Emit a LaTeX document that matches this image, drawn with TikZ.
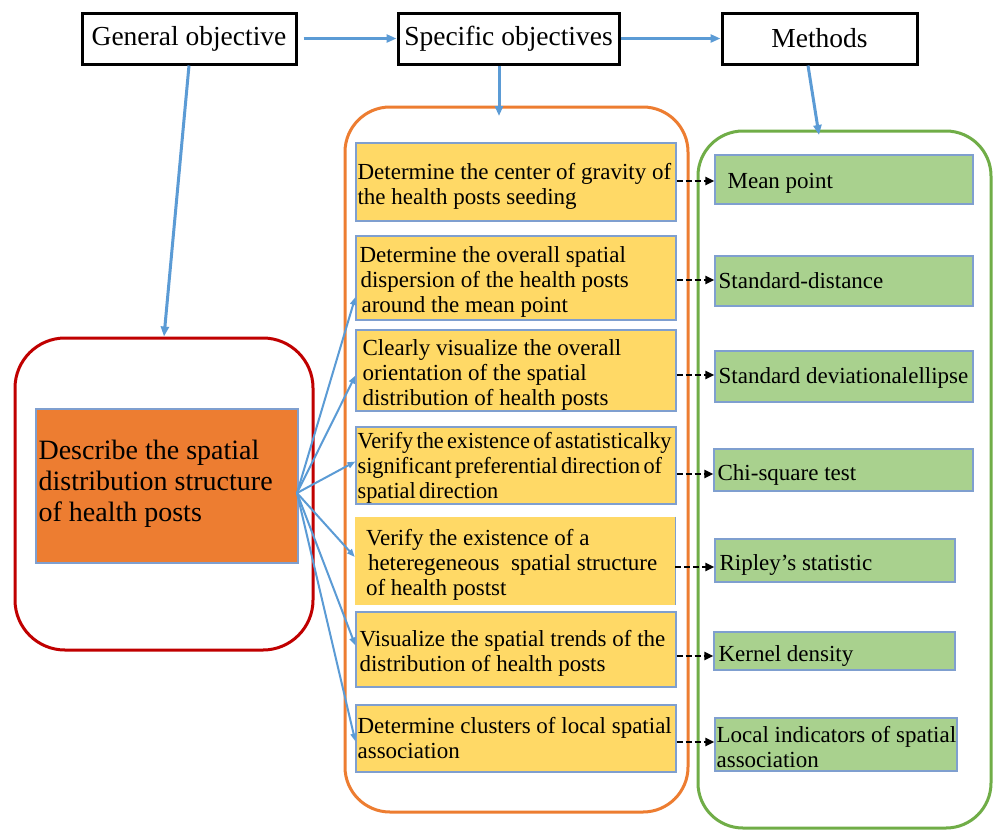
\documentclass[tikz,border=0pt]{standalone}
\usepackage{fontspec}
\setmainfont{Liberation Serif}
\usetikzlibrary{arrows.meta}
\definecolor{arrblue}{HTML}{5B9BD5}
\definecolor{edgeblue}{HTML}{7F9FCF}
\definecolor{yfill}{HTML}{FFD966}
\definecolor{gfill}{HTML}{A9D18E}
\definecolor{ofill}{HTML}{ED7D31}
\definecolor{redline}{HTML}{C00000}
\definecolor{orangeline}{HTML}{ED7D31}
\definecolor{greenline}{HTML}{70AD47}
\tikzset{
  topbox/.style={draw=black, line width=3pt, fill=white, inner sep=0pt,
    font=\fontsize{27.5pt}{30pt}\selectfont},
  ybox/.style={draw=edgeblue, line width=1.2pt, fill=yfill, inner sep=0pt},
  gbox/.style={draw=edgeblue, line width=1.2pt, fill=gfill, inner sep=0pt},
  boxtext/.style={inner sep=0pt, align=left, anchor=west,
    font=\fontsize{23pt}{25pt}\selectfont},
  outerbox/.style={line width=3pt, rounded corners=#1, inner sep=0pt},
  bigarrow/.style={arrblue, line width=3pt, -{Triangle[length=10pt,width=8pt]}},
  fanarrow/.style={arrblue, line width=2pt, -{Triangle[length=8pt,width=6pt]}},
  dasharrow/.style={black, line width=2.6pt, dash pattern=on 6pt off 3pt,
    -{Triangle[length=9pt,width=8pt]}}
}
% name, x1, y1, x2, y2, text x offset, text y offset (down), text
\newcommand{\ybx}[8]{%
  \node[ybox, minimum width={#4-#2}, minimum height={#5-#3}] (#1) at ({(#2+#4)/2},{(#3+#5)/2}) {};
  \node[boxtext] (#1t) at ([xshift=#6pt,yshift=-#7pt]#1.west) {#8};}
\newcommand{\gbx}[8]{%
  \node[gbox, minimum width={#4-#2}, minimum height={#5-#3}] (#1) at ({(#2+#4)/2},{(#3+#5)/2}) {};
  \node[boxtext] (#1t) at ([xshift=#6pt,yshift=-#7pt]#1.west) {#8};}
\begin{document}
\begin{tikzpicture}[x=1pt,y=-1pt]
\useasboundingbox (0,0) rectangle (994,831);
\fill[white] (0,0) rectangle (994,831);

% top boxes
\node[topbox, minimum width=214, minimum height=51] (gen) at (189,38.5) {General objective};
\node[topbox, minimum width=221, minimum height=51] (spec) at (508.5,38.5) {Specific objectives};
\node[topbox, minimum width=195, minimum height=51] (meth) at (819.5,38.5) {Methods};

% outer rounded containers
\node[outerbox=50pt, draw=redline, minimum width=298, minimum height=312] (redc) at (164,494) {};
\node[outerbox=45pt, draw=orangeline, minimum width=343, minimum height=705] (orc) at (516.5,459.5) {};
\node[outerbox=45pt, draw=greenline, minimum width=293, minimum height=697] (grc) at (844.5,479.5) {};

% general objective box
\node[draw=edgeblue, line width=1.2pt, fill=ofill, minimum width=262, minimum height=154,
  inner sep=0pt] (desc) at (167,486) {};
\node[inner sep=0pt, align=left, anchor=west, font=\fontsize{28pt}{31pt}\selectfont]
  (desct) at ([xshift=3pt,yshift=2pt]desc.west)
  {Describe the spatial\\distribution structure\\of health posts};

% specific objectives (yellow)
\ybx{y1}{356}{143}{676}{221}{2}{4}{Determine the center of gravity of\\the health posts seeding}
\ybx{y2}{356}{236}{676}{320}{4}{4}{Determine the overall spatial\\\hspace*{1pt}dispersion of the health posts\\\hspace*{2pt}around the mean point}
\ybx{y3}{356}{330}{676}{411}{7}{4}{Clearly visualize the overall\\orientation of the spatial\\distribution of health posts}
\node[ybox, minimum width=320, minimum height=77] (y4) at (516,465.5) {};
\node[boxtext, font={\fontsize{23pt}{25pt}\selectfont\addfontfeature{FakeStretch=0.97}\spaceskip=0.14em\relax}]
  (y4t) at ([xshift=2pt,yshift=-2pt]y4.west)
  {Verify the existence of astatisticalky\\significant preferential direction of\\spatial direction};
\node[fill=yfill, inner sep=0pt, minimum width=320, minimum height=88] (y5) at (515,561) {};
\draw[edgeblue, line width=1.2pt] (y5.north east) -- (y5.south east);
\node[boxtext] (y5t) at ([xshift=11pt,yshift=-4pt]y5.west)
  {Verify the existence of a\\\hspace*{2pt}heteregeneous\ \ spatial structure\\of health postst};
\ybx{y6}{356}{612}{676}{687}{4}{4}{Visualize the spatial trends of the\\distribution of health posts}
\ybx{y7}{356}{705}{676}{772}{2}{0}{Determine clusters of local spatial\\association}

% methods (green)
\gbx{g1}{715}{155}{973}{204}{13}{4}{Mean point}
\gbx{g2}{715}{256}{973}{306}{4}{0}{Standard-distance}
\gbx{g3}{715}{351}{973}{402}{4}{1}{Standard deviationalellipse}
\gbx{g4}{714}{449}{973}{491}{4}{5}{Chi-square test}
\gbx{g5}{715}{539}{955}{582}{5}{4}{Ripley’s statistic}
\gbx{g6}{714}{632}{955}{670}{5}{5}{Kernel density}
\gbx{g7}{715}{718}{957}{771}{2}{3}{Local indicators of spatial\\association}

% top arrows
\coordinate (specin) at (499,116);
\coordinate (methin) at (819,135);
\draw[bigarrow, shorten <=6pt] (gen.east) -- (spec.west);
\draw[bigarrow] (spec.east) -- (meth.west);
\draw[bigarrow] ([xshift=-9.5pt]spec.south) -- (specin);
\draw[bigarrow] ([xshift=-11.5pt]meth.south) -- (methin);
\draw[bigarrow] (gen.south) -- (redc.north);

% fan of arrows from the general objective
\coordinate (fan) at (297,493);
\draw[fanarrow] (fan) -- ([yshift=-19pt]y2.west);
\draw[fanarrow] (fan) -- ([yshift=-5pt]y3.west);
\draw[fanarrow] (fan) -- ([yshift=4pt]y4.west);
\draw[fanarrow] (fan) -- ([yshift=4pt]y5.west);
\draw[fanarrow] (fan) -- ([yshift=4pt]y6.west);
\draw[fanarrow] (fan) -- ([yshift=-3pt]y7.west);

% dashed arrows objectives -> methods
\draw[dasharrow] (y1.east |- 0,181) -- (g1.west |- 0,181);
\draw[dasharrow] (y2.east |- 0,280) -- (g2.west |- 0,280);
\draw[dasharrow] (y3.east |- 0,375) -- (g3.west |- 0,375);
\draw[dasharrow] (y4.east |- 0,474) -- (g4.west |- 0,474);
\draw[dasharrow] (y5.east |- 0,567) -- (g5.west |- 0,567);
\draw[dasharrow] (y6.east |- 0,656) -- (g6.west |- 0,656);
\draw[dasharrow] (y7.east |- 0,742) -- (g7.west |- 0,742);
\end{tikzpicture}
\end{document}
